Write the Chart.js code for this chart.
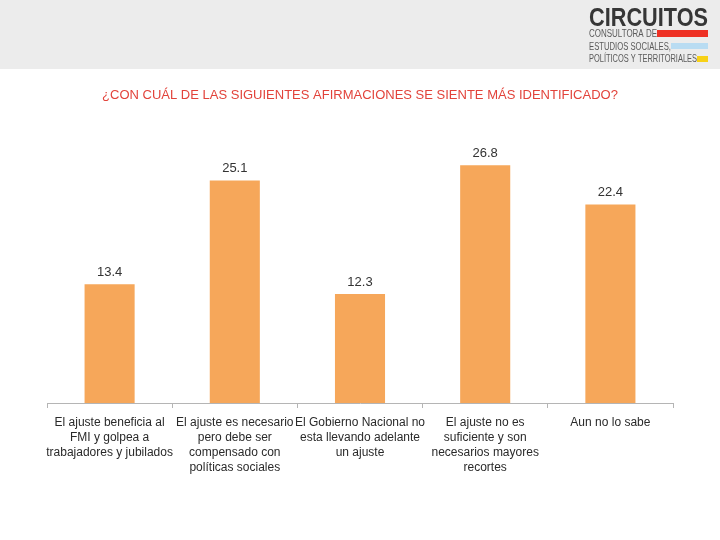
<!DOCTYPE html>
<html>
<head>
<meta charset="utf-8">
<script src="https://cdn.jsdelivr.net/npm/chart.js@4"></script>
<style>
  html, body { margin: 0; padding: 0; background: #fff; }
  #wrap { width: 720px; height: 540px; position: relative; }
</style>
</head>
<body>
<div id="wrap"><canvas id="chart"></canvas></div>
<script>
// question title and category labels (multi-line, as in the slide)
const titleText = "¿CON CUÁL DE LAS SIGUIENTES AFIRMACIONES SE SIENTE MÁS IDENTIFICADO?";
const categories = [
  ["El ajuste beneficia al", "FMI y golpea a", "trabajadores y jubilados"],
  ["El ajuste es necesario", "pero debe ser", "compensado con", "políticas sociales"],
  ["El Gobierno Nacional no", "esta llevando adelante", "un ajuste"],
  ["El ajuste no es", "suficiente y son", "necesarios mayores", "recortes"],
  ["Aun no lo sabe"]
];
const values = [13.4, 25.1, 12.3, 26.8, 22.4];

const barColor = "#F6A75A";
const fontFam = "'Liberation Sans', Arial, Helvetica, sans-serif";

// header band, logo and title
const slideDecor = {
  id: "slideDecor",
  beforeDraw(chart) {
    const ctx = chart.ctx;
    ctx.save();
    ctx.fillStyle = "#ececec";
    ctx.fillRect(0, 0, 720, 69);

    ctx.fillStyle = "#363636";
    ctx.font = "bold 25px " + fontFam;
    ctx.textBaseline = "alphabetic";
    ctx.textAlign = "left";
    ctx.fillText("CIRCUITOS", 589, 26, 119);

    ctx.fillStyle = "#5a5a5a";
    ctx.font = "10px " + fontFam;
    ctx.fillText("CONSULTORA DE", 589, 37, 68);
    ctx.fillText("ESTUDIOS SOCIALES,", 589, 50, 82);
    ctx.fillText("POLÍTICOS Y TERRITORIALES", 589, 62, 108);

    ctx.fillStyle = "#ee3124";
    ctx.fillRect(657, 30, 51, 7);
    ctx.fillStyle = "#b9dcf2";
    ctx.fillRect(671, 43, 37, 6);
    ctx.fillStyle = "#f7d117";
    ctx.fillRect(697, 56, 11, 6);

    ctx.fillStyle = "#e2433b";
    ctx.font = "13px " + fontFam;
    ctx.textAlign = "center";
    ctx.textBaseline = "middle";
    ctx.fillText(titleText, 360, 95);
    ctx.restore();
  },
  afterDatasetsDraw(chart) {
    const ctx = chart.ctx;
    const meta = chart.getDatasetMeta(0);
    ctx.save();
    ctx.fillStyle = "#333";
    ctx.font = "13px " + fontFam;
    ctx.textAlign = "center";
    ctx.textBaseline = "middle";
    meta.data.forEach((bar, i) => {
      ctx.fillText(values[i].toFixed(1), bar.x, bar.y - 12);
    });
    ctx.restore();
  }
};

new Chart(document.getElementById("chart"), {
  type: "bar",
  data: {
    labels: categories,
    datasets: [{
      data: values,
      backgroundColor: barColor,
      barPercentage: 0.4,
      categoryPercentage: 1.0
    }]
  },
  options: {
    responsive: true,
    maintainAspectRatio: false,
    animation: false,
    layout: { padding: { top: 137, left: 47, right: 47, bottom: 0 } },
    plugins: {
      legend: { display: false },
      tooltip: { enabled: false }
    },
    scales: {
      x: {
        grid: {
          offset: true,
          drawOnChartArea: false,
          drawTicks: true,
          tickLength: 5,
          color: "#b5b5b5"
        },
        border: { color: "#b5b5b5" },
        ticks: {
          autoSkip: false,
          maxRotation: 0,
          padding: 7,
          color: "#2a2a2a",
          font: { family: fontFam, size: 12, lineHeight: 1.25 }
        },
        afterFit(scale) { scale.height = 137; }
      },
      y: {
        display: false,
        min: 0,
        max: 30
      }
    }
  },
  plugins: [slideDecor]
});
</script>
</body>
</html>
